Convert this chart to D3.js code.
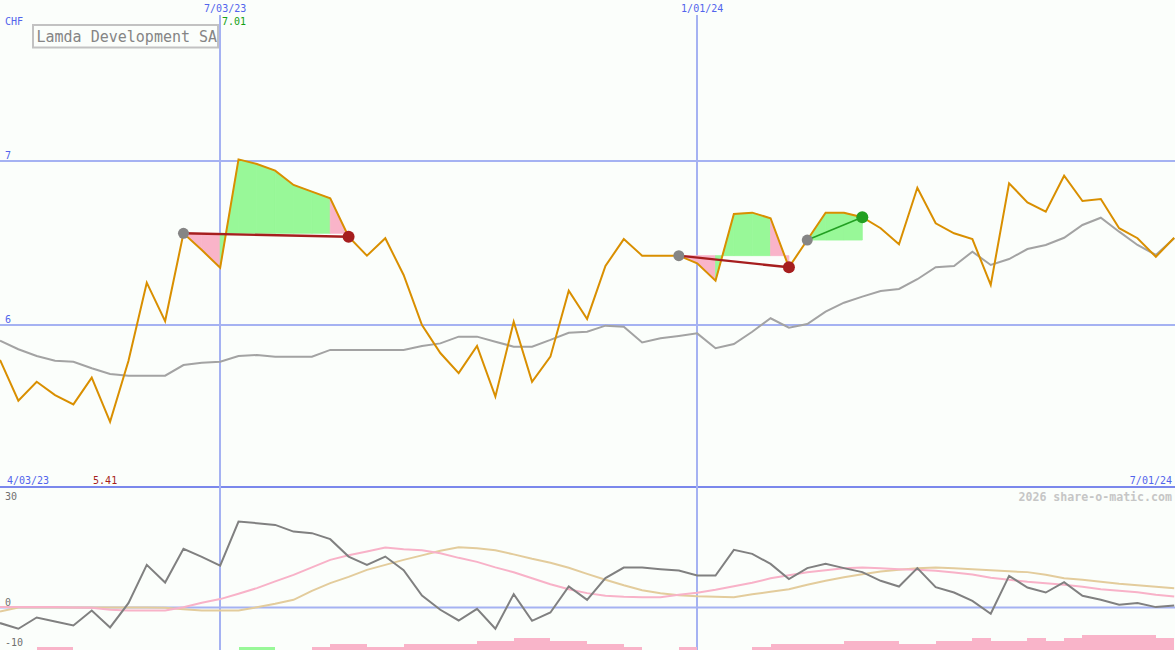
<!DOCTYPE html>
<html>
<head>
<meta charset="utf-8">
<script src="https://cdn.jsdelivr.net/npm/d3@7"></script>
<style>
  html, body { margin: 0; padding: 0; background: #fbfefb; }
  svg { display: block; }
  text { font-family: "DejaVu Sans Mono", monospace; }
</style>
</head>
<body>
<svg id="chart" width="1175" height="650"></svg>
<script>
// ---------------- DATA ----------------
const startDate = new Date(2023, 3, 10);
const endDate = new Date(2024, 6, 1);
const dates = d3.timeMonday.range(startDate, new Date(2024, 6, 2)); // 65 weekly points

const price = [5.787, 5.538, 5.654, 5.573, 5.516, 5.679, 5.41, 5.78, 6.258, 6.024,
  6.559, 6.457, 6.349, 7.01, 6.982, 6.941, 6.854, 6.813, 6.773, 6.538,
  6.423, 6.529, 6.305, 6.0, 5.829, 5.707, 5.872, 5.563, 6.02, 5.654,
  5.807, 6.209, 6.037, 6.36, 6.524, 6.423, 6.423, 6.423, 6.376, 6.27,
  6.677, 6.685, 6.651, 6.352, 6.518, 6.685, 6.685, 6.657, 6.59, 6.492,
  6.837, 6.62, 6.559, 6.524, 6.244, 6.864, 6.748, 6.691, 6.91, 6.756,
  6.768, 6.59, 6.529, 6.416, 6.532];

const benchmark = [5.904, 5.852, 5.811, 5.782, 5.776, 5.736, 5.701, 5.691, 5.691, 5.691,
  5.756, 5.77, 5.776, 5.811, 5.817, 5.807, 5.807, 5.807, 5.848, 5.848,
  5.848, 5.848, 5.848, 5.872, 5.888, 5.929, 5.929, 5.898, 5.868, 5.868,
  5.909, 5.953, 5.959, 5.996, 5.99, 5.894, 5.919, 5.933, 5.949, 5.858,
  5.884, 5.959, 6.041, 5.984, 6.006, 6.081, 6.136, 6.173, 6.207, 6.22,
  6.279, 6.352, 6.36, 6.447, 6.366, 6.402, 6.463, 6.488, 6.532, 6.61,
  6.654, 6.569, 6.488, 6.427, 6.529];

const momentum = [-4.43, -6.05, -2.84, -3.98, -5.11, -0.85, -5.68, 1.25, 12.13, 7.1,
  16.68, 14.4, 11.93, 24.43, 23.98, 23.49, 21.59, 21.14, 19.43, 14.49,
  12.13, 14.49, 10.6, 3.41, -0.65, -3.69, -0.37, -6.05, 3.81, -3.78,
  -1.42, 5.97, 2.19, 8.35, 11.36, 11.36, 10.91, 10.51, 9.09, 9.09,
  16.39, 15.26, 12.41, 8.07, 11.19, 12.41, 11.19, 10.06, 7.59, 5.97,
  11.19, 5.8, 4.26, 1.9, -1.79, 9.0, 5.68, 4.26, 7.22, 3.32,
  2.19, 0.77, 1.25, 0.11, 0.57];

const signalFast = [0.11, 0.11, 0.11, 0.11, 0, -0.09, -0.65, -0.85, -0.85, -0.85,
  0.06, 1.34, 2.39, 3.89, 5.51, 7.44, 9.29, 11.42, 13.55, 14.83,
  15.91, 17.05, 16.53, 16.31, 15.45, 14.12, 12.98, 11.42, 10.0, 8.3,
  6.59, 5.17, 4.09, 3.32, 3.04, 2.95, 2.95, 3.6, 4.18, 5.03,
  6.02, 7.02, 8.3, 9.15, 10.0, 10.57, 11.19, 11.36, 11.14, 10.91,
  10.71, 10.43, 9.94, 9.38, 8.44, 7.87, 7.3, 6.88, 6.45, 5.88,
  5.17, 4.74, 4.32, 3.61, 3.13];

const signalSlow = [-1.14, 0, 0, 0, 0, 0, 0, 0, 0, -0.09,
  -0.51, -0.85, -0.85, -0.85, 0.06, 1.05, 2.19, 4.74, 6.93, 8.72,
  10.71, 12.13, 13.55, 14.83, 16.11, 17.1, 16.82, 16.25, 15.11, 13.84,
  12.7, 11.28, 9.57, 7.87, 6.31, 4.89, 4.03, 3.47, 3.18, 3.04,
  2.95, 3.75, 4.46, 5.17, 6.45, 7.59, 8.58, 9.43, 10.23, 10.71,
  11.14, 11.36, 11.14, 10.85, 10.57, 10.28, 10.06, 9.29, 8.35, 7.87,
  7.3, 6.73, 6.31, 5.88, 5.45];

// signal bars per weekly interval (negative = pink, positive = green)
const signalBars = [0, 0, -1, -1, 0, 0, 0, 0, 0, 0,
  0, 0, 0, 1, 1, 0, 0, -1, -2, -2,
  -1, -1, -2, -2, -2, -2, -3, -3, -4, -4,
  -3, -3, -2, -2, -1, 0, 0, -1, 0, 0,
  0, -1, -2, -2, -2, -2, -3, -3, -3, -2,
  -2, -3, -3, -4, -3, -3, -4, -3, -4, -5,
  -5, -5, -5, -4];

// trades: entry / exit week index and outcome
const tradeEntry = [10, 37, 44];
const tradeExit = [19, 43, 47];
const tradeWin = [false, false, true];

const priceTicks = [6, 7];
const priceTickLabels = ["6", "7"];
const lowerTicks = [30, 0, -10];
const lowerTickLabels = ["30", "0", "-10"];
const markerDates = [new Date(2023, 6, 3), new Date(2024, 0, 1)];
const markerLabels = ["7/03/23", "1/01/24"];
const startLabel = "4/03/23";
const endLabel = "7/01/24";
const currency = "CHF";
const title = "Lamda Development SA";
const watermark = "2026 share-o-matic.com";

// ---------------- CHART ----------------
const W = 1175, H = 650;
const svg = d3.select("#chart");
const C = {
  bg: "#fbfefb", grid: "#a5b2f2", sep: "#7b88ec", blueText: "#5264ec",
  orange: "#d98f00", gray: "#a3a3a3", dark: "#808080", pink: "#f8b2c8",
  tan: "#e3cc9c", green: "#98f898", pinkFill: "#f9b4c9", red: "#a61e1e",
  greenDot: "#22a022"
};

svg.append("rect").attr("width", W).attr("height", H).attr("fill", C.bg);

const x = d3.scaleTime().domain([startDate, endDate]).range([0, 1174.2]);
const y = d3.scaleLinear().domain([6, 7]).range([325, 161]);
const yl = d3.scaleLinear().domain([0, 30]).range([607.5, 502]);
const barH = d3.scaleLinear().domain([0, 5]).range([0, 15.3]);

// grid lines
svg.append("g").selectAll("line").data(priceTicks).join("line")
  .attr("x1", 0).attr("x2", W).attr("y1", d => y(d)).attr("y2", d => y(d))
  .attr("stroke", C.grid).attr("stroke-width", 2);
svg.append("line").attr("x1", 0).attr("x2", W).attr("y1", yl(0)).attr("y2", yl(0))
  .attr("stroke", C.grid).attr("stroke-width", 2);
svg.append("line").attr("x1", 0).attr("x2", W).attr("y1", 487).attr("y2", 487)
  .attr("stroke", C.sep).attr("stroke-width", 2);
svg.append("g").selectAll("line").data(markerDates).join("line")
  .attr("x1", d => Math.round(x(d))).attr("x2", d => Math.round(x(d)))
  .attr("y1", 15).attr("y2", H)
  .attr("stroke", C.grid).attr("stroke-width", 2);

// signal bars
svg.append("g").attr("shape-rendering", "crispEdges")
  .selectAll("rect").data(signalBars.map((v, i) => ({ v, i })).filter(d => d.v !== 0))
  .join("rect")
  .attr("x", d => Math.round(x(dates[d.i])))
  .attr("width", d => Math.round(x(dates[d.i + 1])) - Math.round(x(dates[d.i])))
  .attr("y", d => H - barH(Math.abs(d.v)))
  .attr("height", d => barH(Math.abs(d.v)))
  .attr("fill", d => d.v > 0 ? C.green : C.pinkFill);

// trade fills
const fillG = svg.append("g");
tradeEntry.forEach((s, k) => {
  const e = tradeExit[k];
  const lvl = price[s];
  for (let i = s; i < e; i++) {
    const seg = [i, i + 1];
    const area = d3.area()
      .x(j => x(dates[j]))
      .y0(() => y(lvl))
      .y1(j => y(price[j]));
    const col = price[i + 1] >= lvl ? C.green : C.pinkFill;
    fillG.append("path").attr("d", area(seg))
      .attr("fill", col).attr("stroke", col).attr("stroke-width", 0.8);
  }
});

// lower panel lines
const lowerLine = arr => d3.line().x((d, i) => x(dates[i])).y(d => yl(d))(arr);
svg.append("path").attr("d", lowerLine(signalSlow)).attr("fill", "none")
  .attr("stroke", C.tan).attr("stroke-width", 2);
svg.append("path").attr("d", lowerLine(signalFast)).attr("fill", "none")
  .attr("stroke", C.pink).attr("stroke-width", 2);
svg.append("path").attr("d", lowerLine(momentum)).attr("fill", "none")
  .attr("stroke", C.dark).attr("stroke-width", 2);

// main lines
const mainLine = arr => d3.line().x((d, i) => x(dates[i])).y(d => y(d))(arr);
svg.append("path").attr("d", mainLine(benchmark)).attr("fill", "none")
  .attr("stroke", C.gray).attr("stroke-width", 2);
svg.append("path").attr("d", mainLine(price)).attr("fill", "none")
  .attr("stroke", C.orange).attr("stroke-width", 2);

// trade lines and dots
tradeEntry.forEach((s, k) => {
  const e = tradeExit[k];
  const col = tradeWin[k] ? C.greenDot : C.red;
  svg.append("line")
    .attr("x1", x(dates[s])).attr("y1", y(price[s]))
    .attr("x2", x(dates[e])).attr("y2", y(price[e]))
    .attr("stroke", col).attr("stroke-width", tradeWin[k] ? 1.6 : 2.4);
  svg.append("circle").attr("cx", x(dates[s])).attr("cy", y(price[s])).attr("r", 5.5)
    .attr("fill", "#858585");
  svg.append("circle").attr("cx", x(dates[e])).attr("cy", y(price[e])).attr("r", 6)
    .attr("fill", col);
});

// texts
const txt = (t, px, py, opts = {}) => svg.append("text").text(t)
  .attr("x", px).attr("y", py)
  .attr("font-size", opts.size || 10)
  .attr("fill", opts.fill || C.blueText)
  .attr("text-anchor", opts.anchor || "start")
  .attr("font-weight", opts.weight || "normal");

txt(currency, 5, 24.5);
priceTicks.forEach((t, i) => txt(priceTickLabels[i], 5, y(t) - 2));
markerDates.forEach((d, i) => txt(markerLabels[i], x(d) + 5, 12, { anchor: "middle" }));
txt(startLabel, 7, 483.5);
txt(endLabel, 1172, 483.5, { anchor: "end" });

const hiIdx = d3.maxIndex(price), loIdx = d3.minIndex(price);
txt(d3.format(".2f")(price[hiIdx]), x(dates[hiIdx]) - 16.5, 25, { fill: "#14a014" });
txt(d3.format(".2f")(price[loIdx]), x(dates[loIdx]) - 17, 483.5, { fill: C.red });

lowerTicks.forEach((t, i) => {
  const py = t === -10 ? 646 : yl(t) - 2;
  txt(lowerTickLabels[i], 5, py, { fill: "#707070" });
});

txt(watermark, 1172, 500.5, { anchor: "end", fill: "#c6c6c6", size: 11.6, weight: "bold" });

// title box
svg.append("rect").attr("x", 33).attr("y", 25).attr("width", 185).attr("height", 22.5)
  .attr("fill", C.bg).attr("stroke", "#c2c2c2").attr("stroke-width", 2);
txt(title, 36.5, 42, { fill: "#858585", size: 15 });
</script>
</body>
</html>
